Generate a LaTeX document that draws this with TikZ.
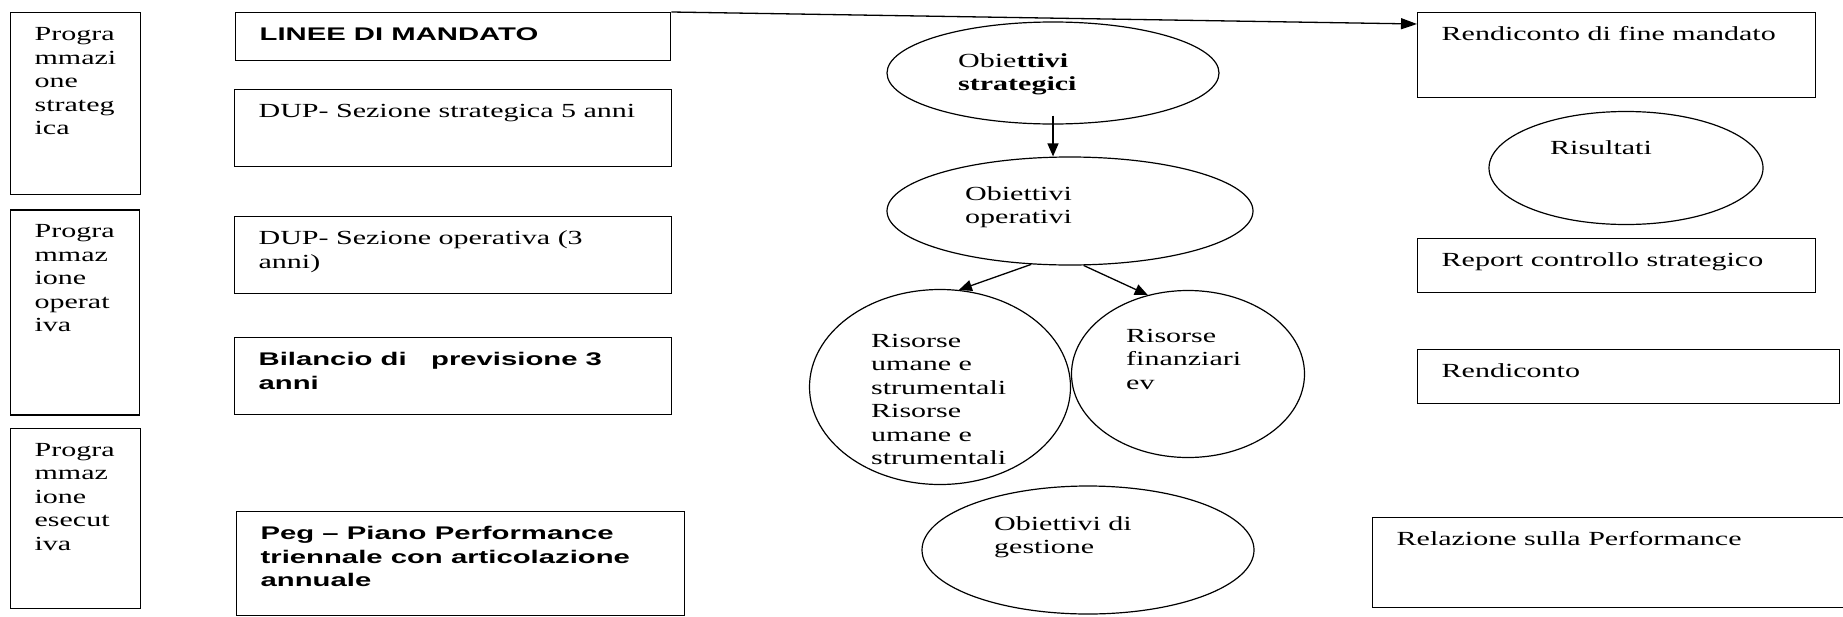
\documentclass[tikz,border=0pt]{standalone}
\usepackage{fontspec}
\setmainfont{Liberation Serif}[FakeStretch=1.5,BoldFont={Liberation Serif Bold}]
\newfontfamily\arialfam{Liberation Sans}[FakeStretch=1.6,BoldFont={Liberation Sans Bold}]
\usetikzlibrary{shapes,arrows.meta,positioning}

\newcommand{\serifsize}{\fontsize{20pt}{23.5pt}\selectfont}
\newcommand{\sansbold}{\arialfam\bfseries\fontsize{18.3pt}{23.5pt}\selectfont}
\newcommand{\boxlines}[3]{\parbox[t][#2][t]{#1}{\raggedright\leftskip=24pt\rule{0pt}{28pt}#3}}
\newcommand{\goallines}[1]{\begin{tabular}[t]{@{}l@{}}#1\end{tabular}}

\tikzset{
  every node/.style={
    font=\serifsize
  },
  plan box/.style={
    shape=rectangle,
    draw,
    line width=1.3pt,
    inner sep=0pt,
    anchor=north west
  },
  plan bold/.style={
    plan box,
    font=\sansbold
  },
  goal/.style n args={2}{
    shape=ellipse,
    draw,
    line width=1.2pt,
    inner sep=0pt,
    minimum width=#1,
    minimum height=#2
  },
  goal text/.style={
    inner sep=0pt,
    anchor=base west
  },
  flow/.style={
    line width=1.3pt,
    -{Triangle[length=13pt,width=11pt]}
  }
}

\begin{document}
\begin{tikzpicture}[x=1pt,y=-1pt]
\useasboundingbox (0,0) rectangle (1843,616);

% livelli di programmazione
\node [plan box] (strategic) at (10,12)
  {\boxlines{130pt}{182pt}{Progra\\mmazi\\one\\strateg\\ica}};
\node [plan box, below=14pt of strategic.south west, anchor=north west] (operational)
  {\boxlines{129pt}{205pt}{Progra\\mmaz\\ione\\operat\\iva}};
\node [plan box, below=12pt of operational.south west, anchor=north west] (executive)
  {\boxlines{130pt}{180pt}{Progra\\mmaz\\ione\\esecut\\iva}};

% documenti di programmazione
\node [plan bold] (mandate) at (235,12) {\boxlines{435pt}{48pt}{LINEE DI MANDATO}};
\node [plan box] (dupstrategic) at (234,89)
  {\boxlines{437pt}{77pt}{DUP- Sezione strategica 5 anni}};
\node [plan box] (dupoperative) at (234,216)
  {\boxlines{437pt}{77pt}{DUP- Sezione operativa (3\\anni)}};
\node [plan bold] (budget) at (234,337)
  {\boxlines{437pt}{77pt}{Bilancio di \ \ previsione 3\\anni}};
\node [plan bold] (peg) at (236,511)
  {\boxlines{448pt}{104pt}{Peg – Piano Performance\\triennale con articolazione\\annuale}};

% obiettivi e risorse
\node [goal={332pt}{102pt}] (strat) at (1053,73) {};
\node [goal text] (strat-t) at (958,67) {\goallines{Obie\textbf{ttivi}\\\textbf{strategici}}};
\node [goal={366pt}{108pt}] (oper) at (1070,211) {};
\node [goal text] (oper-t) at (965,200) {\goallines{Obiettivi\\operativi}};
\node [goal={261pt}{195pt}] (human) at (940,387) {};
\node [goal text] (human-t) at (871,347)
  {\goallines{Risorse\\umane e\\strumentali\\Risorse\\umane e\\strumentali}};
\node [goal={233pt}{167pt}] (funds) at (1188,374) {};
\node [goal text] (funds-t) at (1126,342) {\goallines{Risorse\\finanziari\\ev}};
\node [goal={332pt}{128pt}] (mgmt) at (1088,550) {};
\node [goal text] (mgmt-t) at (994,530) {\goallines{Obiettivi di\\gestione}};

% rendicontazione
\node [plan box] (endterm) at (1417,12) {\boxlines{398pt}{85pt}{Rendiconto di fine mandato}};
\node [goal={274pt}{113pt}] (results) at (1626,168) {};
\node [goal text] (results-t) at (1550,154) {Risultati};
\node [plan box] (report) at (1417,238) {\boxlines{398pt}{54pt}{Report controllo strategico}};
\node [plan box] (accounts) at (1417,349) {\boxlines{422pt}{54pt}{Rendiconto}};
\node [plan box] (perfreport) at (1372,517) {\boxlines{475pt}{90pt}{Relazione sulla Performance}};

% frecce
\draw [flow, -{Triangle[length=16pt,width=11pt]}] (mandate.north east) -- ([yshift=-12pt]endterm.north west);
\draw [flow] ([yshift=9pt]strat.south) -- (strat.south |- oper.north);
\draw [flow] (oper.234) -- (human.79);
\draw [flow] (oper.284) -- (funds.117);

\end{tikzpicture}
\end{document}
